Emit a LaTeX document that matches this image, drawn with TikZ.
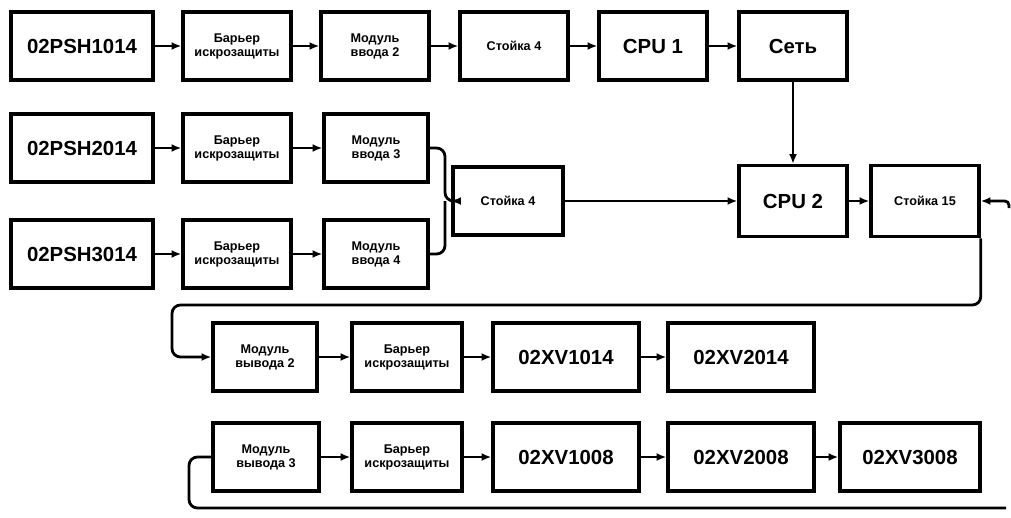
\documentclass[tikz,border=0pt]{standalone}
\usepackage{fontspec}
\setmainfont{Liberation Sans}
\usetikzlibrary{arrows.meta}
\begin{document}
\begin{tikzpicture}[x=0.25mm, y=-0.25mm]
  \tikzset{
    big_box/.style={draw, line width=2.5pt, inner sep=0pt, minimum width=35.5mm, minimum height=17mm, font=\fontsize{14.5}{16}\selectfont\bfseries},
    small_box/.style={draw, line width=2.5pt, inner sep=0pt, minimum width=27mm, minimum height=17mm, align=center, font=\fontsize{9}{10}\selectfont\bfseries},
    cpu_box/.style={big_box, minimum width=27mm},
    xv_box/.style={big_box, minimum width=36.5mm},
    wire/.style={line width=2pt},
    arrow_wire/.style={wire, -{Latex[length=2.4mm,width=2mm]}}
  }
  \useasboundingbox (0,0) rectangle (1011,517);

  % Fila 1
  \node[big_box] (psha) at (82,46) {02PSH1014};
  \node[small_box] (bara) at (237,46) {Барьер\\искрозащиты};
  \node[small_box] (moda) at (375,46) {Модуль\\ввода 2};
  \node[small_box] (sta) at (514,46) {Стойка 4};
  \node[cpu_box] (cpua) at (653,46) {CPU 1};
  \node[cpu_box] (net) at (793,46) {Сеть};

  % Filas 2 y 3
  \node[big_box] (pshb) at (82,148) {02PSH2014};
  \node[small_box] (barb) at (237,148) {Барьер\\искрозащиты};
  \node[small_box, minimum width=26mm] (modb) at (376,148) {Модуль\\ввода 3};
  \node[big_box] (pshc) at (82,254) {02PSH3014};
  \node[small_box] (barc) at (237,254) {Барьер\\искрозащиты};
  \node[small_box, minimum width=26mm] (modc) at (376,254) {Модуль\\ввода 4};

  % Centro
  \node[small_box, minimum width=27.5mm] (stm) at (508,201) {Стойка 4};
  \node[cpu_box, minimum height=17.75mm] (cpub) at (793,201) {CPU 2};
  \node[small_box, minimum height=17.75mm] (stb) at (925,201) {Стойка 15};

  % Fila 4
  \node[small_box, minimum width=26mm] (outa) at (265,357) {Модуль\\вывода 2};
  \node[small_box, minimum width=27.5mm] (bard) at (407,357) {Барьер\\искрозащиты};
  \node[xv_box] (xva) at (566,357) {02XV1014};
  \node[xv_box] (xvb) at (741,357) {02XV2014};

  % Fila 5
  \node[small_box, minimum width=26.5mm] (outb) at (266,457) {Модуль\\вывода 3};
  \node[small_box, minimum width=27.5mm] (bare) at (407,457) {Барьер\\искрозащиты};
  \node[xv_box] (xvc) at (566,457) {02XV1008};
  \node[xv_box] (xvd) at (741,457) {02XV2008};
  \node[xv_box, minimum width=35mm] (xve) at (910,457) {02XV3008};

  % Puntos de las conexiones
  \coordinate (jn) at (445,201);
  \coordinate (loopL) at (172,305);
  \coordinate (botL) at (189,508);
  \coordinate (botR) at (1006,508);
  \coordinate (inR) at (1009,208);

  % Conexiones
  \foreach \a/\b in {psha/bara, bara/moda, moda/sta, sta/cpua, cpua/net,
                     pshb/barb, barb/modb, pshc/barc, barc/modc,
                     stm/cpub, cpub/stb, outa/bard, bard/xva, xva/xvb,
                     outb/bare, bare/xvc, xvc/xvd, xvd/xve}
    \draw[arrow_wire] (\a) -- (\b);
  \draw[arrow_wire] (net) -- (cpub);

  \draw[arrow_wire, rounded corners=6pt] (modb.east) -| (jn) -- (stm.west);
  \draw[wire, rounded corners=6pt] (modc.east) -| (jn);

  \draw[arrow_wire, rounded corners=6pt] (stb.south east) |- (loopL) |- (outa.west);
  \draw[wire, rounded corners=6pt] (outb.west) -| (botL) -- (botR);
  \draw[arrow_wire, rounded corners=3pt] (inR) |- (stb.east);
\end{tikzpicture}
\end{document}
